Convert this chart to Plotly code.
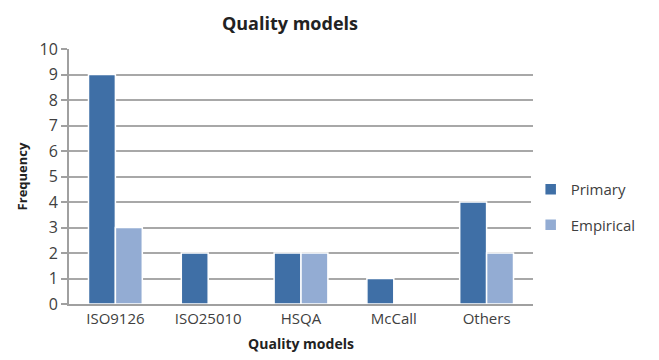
import plotly.graph_objects as go

categories = ["ISO9126", "ISO25010", "HSQA", "McCall", "Others"]
primary = [9, 2, 2, 1, 4]
empirical = [3, 0, 2, 0, 2]
y_ticks = list(range(0, 11))

FONT = "Open Sans"
TXT = "#404040"

fig = go.Figure()
fig.add_trace(go.Bar(
    name="Primary", x=categories, y=primary, legendgroup="p",
    marker=dict(color="#3f6fa6", line=dict(color="white", width=1.5)),
))
fig.add_trace(go.Bar(
    name="Empirical", x=categories, y=empirical, legendgroup="e",
    marker=dict(color="#93acd3", line=dict(color="white", width=1.5)),
))

fig.update_layout(
    width=659, height=360,
    margin=dict(l=69, r=126, t=49, b=56, autoexpand=False),
    paper_bgcolor="white", plot_bgcolor="white",
    barmode="group", bargap=0.42, bargroupgap=0.0,
    title=dict(text="<b>Quality models</b>", x=0.44, xanchor="center",
               y=0.935, yanchor="middle",
               font=dict(family=FONT, size=18, color="#222222")),
    font=dict(family=FONT, size=14, color=TXT),
    legend=dict(x=0.995, y=0.38, xanchor="left", yanchor="middle",
                font=dict(size=15, color=TXT), tracegroupgap=13,
                traceorder="grouped", itemwidth=30),
    xaxis=dict(
        title=dict(text="<b>Quality models</b>", standoff=12,
                   font=dict(family=FONT, size=14, color="#222222")),
        showline=True, linecolor="#a0a0a0", linewidth=2,
        ticks="", tickfont=dict(size=15, color=TXT),
    ),
    yaxis=dict(
        title=dict(text="<b>Frequency</b>", standoff=9,
                   font=dict(family=FONT, size=13, color="#222222")),
        range=[0, 10], tickvals=y_ticks,
        showgrid=True, gridcolor="#a8a8a8", gridwidth=1.5,
        showline=True, linecolor="#a0a0a0", linewidth=2,
        ticks="outside", ticklen=6, tickcolor="#a0a0a0", tickwidth=1.5,
        tickfont=dict(size=16, color=TXT), zeroline=False,
    ),
)

fig.write_html("out.html")
